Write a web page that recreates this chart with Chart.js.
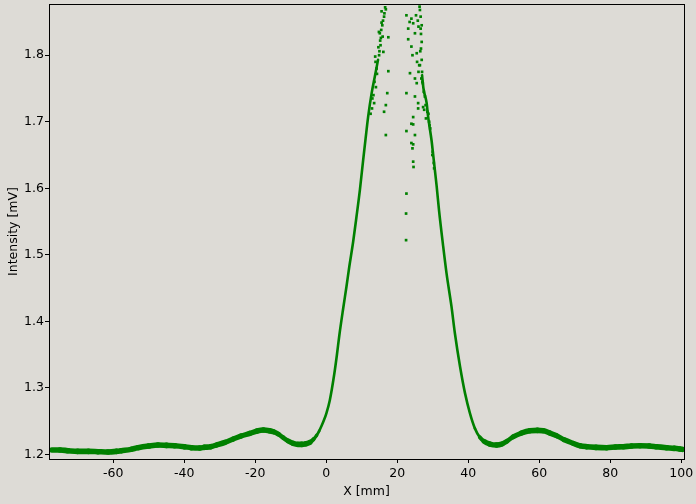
<!DOCTYPE html>
<html>
<head>
<meta charset="utf-8">
<script src="https://cdn.jsdelivr.net/npm/chart.js@4/dist/chart.umd.min.js"></script>
<style>
  html, body { margin: 0; padding: 0; background: #dddbd6; }
  canvas { display: block; }
</style>
</head>
<body>
<canvas id="c" width="696" height="504"></canvas>
<script>
// Tick labels
const xTicks = [-60, -40, -20, 0, 20, 40, 60, 80, 100];
const yTicks = [1.2, 1.3, 1.4, 1.5, 1.6, 1.7, 1.8];

// Main curve, left of the central gap (X [mm], Intensity [mV])
const leftX = [-77.3, -75, -72.8, -70, -67, -64.3, -61.5, -59, -57.7, -55, -53, -50, -47.4, -45, -42.7, -40, -38, -35.6, -34.3, -32.5,
  -30.9, -28.5, -26.2, -24, -21.5, -19.5, -17.7, -16, -14.9, -13.5, -12.1, -10.7, -9.3, -8, -6.9, -5.7, -4.6, -3.6, -2.7, -2.0,
  -1.3, -0.6, 0.0, 1.0, 2.25, 3.0, 3.7, 4.8, 5.7, 6.5, 7.6, 8.5, 9.5, 10.4, 11.1, 11.8, 12.8, 13.7, 14.6];
const leftY = [1.2065, 1.2065, 1.2055, 1.2045, 1.2045, 1.2040, 1.2035, 1.2045, 1.2055, 1.2075, 1.2100, 1.2125, 1.2140, 1.2135, 1.2130, 1.2115, 1.2100, 1.2095, 1.2105, 1.2115,
  1.2140, 1.2180, 1.2230, 1.2275, 1.2315, 1.2350, 1.2365, 1.2355, 1.2340, 1.2305, 1.2250, 1.2200, 1.2165, 1.2150, 1.2150, 1.2160, 1.2180, 1.2225, 1.2285, 1.2350,
  1.2430, 1.2520, 1.2610, 1.2810, 1.3200, 1.3490, 1.3790, 1.4200, 1.4520, 1.4820, 1.5200, 1.5560, 1.5980, 1.6420, 1.6750, 1.7070, 1.7430, 1.7680, 1.7930];

// Main curve, right of the central gap
const rightX = [27.0, 27.4, 28.3, 28.7, 29.7, 30.1, 30.6, 31.1, 31.8, 32.9, 33.9, 35.3, 36.25, 37.7, 39.1, 40.5, 41.9,
  43.3, 44.5, 46.1, 48.0, 49.5, 51, 52.7, 55, 57.4, 59.5, 61.1, 63, 64.9, 67, 69.6, 71.5, 73.4, 76, 79, 81.5,
  83.7, 86, 88.4, 91, 93, 95.9, 98, 99.6, 100.3];
const rightY = [1.7700, 1.7500, 1.7280, 1.7080, 1.6710, 1.6520, 1.6280, 1.6040, 1.5660, 1.5150, 1.4720, 1.4220, 1.3820, 1.3320, 1.2920, 1.2617, 1.2390,
  1.2255, 1.2195, 1.2155, 1.2140, 1.2155, 1.2200, 1.2265, 1.2320, 1.2355, 1.2360, 1.2355, 1.2320, 1.2280, 1.2220, 1.2165, 1.2130, 1.2115, 1.2105, 1.2100, 1.2110,
  1.2115, 1.2125, 1.2130, 1.2125, 1.2115, 1.2100, 1.2090, 1.2080, 1.2075];

// Scattered (noisy) samples near the top of the peaks
const scatterX = [15.6, 16.8, 15.6, 14.85, 15.9, 17.5, 17.5, 17.2, 16.8, 16.3, 16.8, 15.1, 14.7, 13.9, 14.2, 13.6, 14.0, 13.3, 13.5, 13.0,
  12.9, 12.5, 16.1, 15.3, 14.3, 13.8, 15.0, 15.2, 15.5, 15.8, 16.0, 16.3, 16.6, 16.4, 15.4, 14.9,
  22.6, 23.1, 24.5, 25.0, 23.1, 24.0, 25.5, 24.3, 23.6, 25.0, 25.5, 22.6, 25.0, 25.9, 25.9, 24.5, 24.0, 24.5, 22.6, 25.0, 24.0, 24.5, 24.3, 24.5,
  24.6, 22.6, 22.5, 22.5, 25.3, 25.8, 26.0, 25.6, 26.2, 26.0, 27.5, 27.8, 28.5, 29.0, 29.3, 27.3, 23.5, 24.0, 27.6, 28.1, 29.9, 30.3, 26.7, 27.1,
  26.4, 26.6, 26.9, 26.7, 26.9, 26.5, 26.9, 26.4, 27.0, 26.8, 27.2, 26.3, 26.6, 28.0, 28.8, 29.1, 30.0, 30.4];
const scatterY = [1.866, 1.869, 1.849, 1.835, 1.828, 1.827, 1.776, 1.743, 1.725, 1.715, 1.680, 1.833, 1.812, 1.790, 1.780, 1.760, 1.752, 1.740, 1.728, 1.735,
  1.720, 1.712, 1.805, 1.815, 1.772, 1.798, 1.806, 1.822, 1.838, 1.845, 1.852, 1.858, 1.872, 1.863, 1.826, 1.800,
  1.860, 1.840, 1.848, 1.833, 1.824, 1.813, 1.803, 1.800, 1.773, 1.765, 1.758, 1.743, 1.738, 1.728, 1.720, 1.707, 1.697, 1.696, 1.686, 1.680, 1.668, 1.666, 1.660, 1.640,
  1.632, 1.592, 1.562, 1.522, 1.860, 1.852, 1.843, 1.790, 1.785, 1.775, 1.745, 1.738, 1.715, 1.700, 1.690, 1.722, 1.850, 1.855, 1.718, 1.705, 1.650, 1.638, 1.810, 1.760,
  1.868, 1.858, 1.845, 1.832, 1.820, 1.806, 1.793, 1.785, 1.775, 1.765, 1.758, 1.873, 1.840, 1.725, 1.712, 1.695, 1.655, 1.630];

const GREEN = '#008000';
const BG = '#dddbd6';
const FONT = 'DejaVu Sans';

const toPts = (xs, ys) => xs.map((x, i) => ({x: x, y: ys[i]}));

const framePlugin = {
  id: 'frame',
  beforeDraw(chart) {
    const c = chart.ctx;
    c.save();
    c.fillStyle = BG;
    c.fillRect(0, 0, chart.width, chart.height);
    c.restore();
  },
  afterDraw(chart) {
    const a = chart.chartArea, c = chart.ctx;
    c.save();
    c.strokeStyle = '#000';
    c.lineWidth = 1;
    c.strokeRect(Math.round(a.left) + 0.5, Math.round(a.top) + 0.5, Math.round(a.right - a.left), Math.round(a.bottom - a.top));
    c.restore();
  }
};

// Band of constant vertical thickness: thinner stroke where the curve is steep
const lineWidthFn = ctx => {
  const dx = ctx.p1.x - ctx.p0.x, dy = ctx.p1.y - ctx.p0.y;
  const h = Math.hypot(dx, dy) || 1;
  return Math.max(2.6, 5.6 * Math.abs(dx) / h);
};

const lineDs = pts => ({
  data: pts, showLine: true, pointRadius: 0, borderColor: GREEN, borderWidth: 5.5,
  cubicInterpolationMode: 'monotone', borderCapStyle: 'round', borderJoinStyle: 'round', clip: 0,
  segment: { borderWidth: lineWidthFn }
});

new Chart(document.getElementById('c'), {
  type: 'scatter',
  data: {
    datasets: [
      lineDs(toPts(leftX, leftY)),
      lineDs(toPts(rightX, rightY)),
      { data: toPts(scatterX, scatterY), showLine: false, pointStyle: 'rect', pointRadius: 1.9,
        backgroundColor: GREEN, borderWidth: 0, clip: 0 }
    ]
  },
  options: {
    responsive: false,
    animation: false,
    devicePixelRatio: 1,
    layout: { padding: { top: 4, right: 12, bottom: 0, left: 0 } },
    plugins: { legend: { display: false }, tooltip: { enabled: false } },
    scales: {
      x: {
        type: 'linear', min: -78.1, max: 100.8,
        afterBuildTicks: s => { s.ticks = xTicks.map(v => ({value: v})); },
        afterFit: s => { s.height = 45; s.paddingLeft = 0; s.paddingRight = 0; },
        grid: { drawOnChartArea: false, drawTicks: true, tickLength: 4, color: '#000', lineWidth: 1 },
        border: { display: false },
        ticks: { color: '#000', font: { family: FONT, size: 12.5 }, padding: 3, autoSkip: false, maxRotation: 0,
                 callback: v => String(v) },
        title: { display: true, text: 'X [mm]', color: '#000', font: { family: FONT, size: 12.5 }, padding: { top: 0, bottom: 5 } }
      },
      y: {
        type: 'linear', min: 1.193, max: 1.877,
        afterBuildTicks: s => { s.ticks = yTicks.map(v => ({value: v})); },
        afterFit: s => { s.width = 49; s.paddingTop = 0; s.paddingBottom = 0; },
        grid: { drawOnChartArea: false, drawTicks: true, tickLength: 4, color: '#000', lineWidth: 1 },
        border: { display: false },
        ticks: { color: '#000', font: { family: FONT, size: 12.5 }, padding: 1, autoSkip: false,
                 callback: v => Number(v).toFixed(1) },
        title: { display: true, text: 'Intensity [mV]', color: '#000', font: { family: FONT, size: 12.5 }, padding: { top: 6, bottom: 0 } }
      }
    }
  },
  plugins: [framePlugin]
});
</script>
</body>
</html>
